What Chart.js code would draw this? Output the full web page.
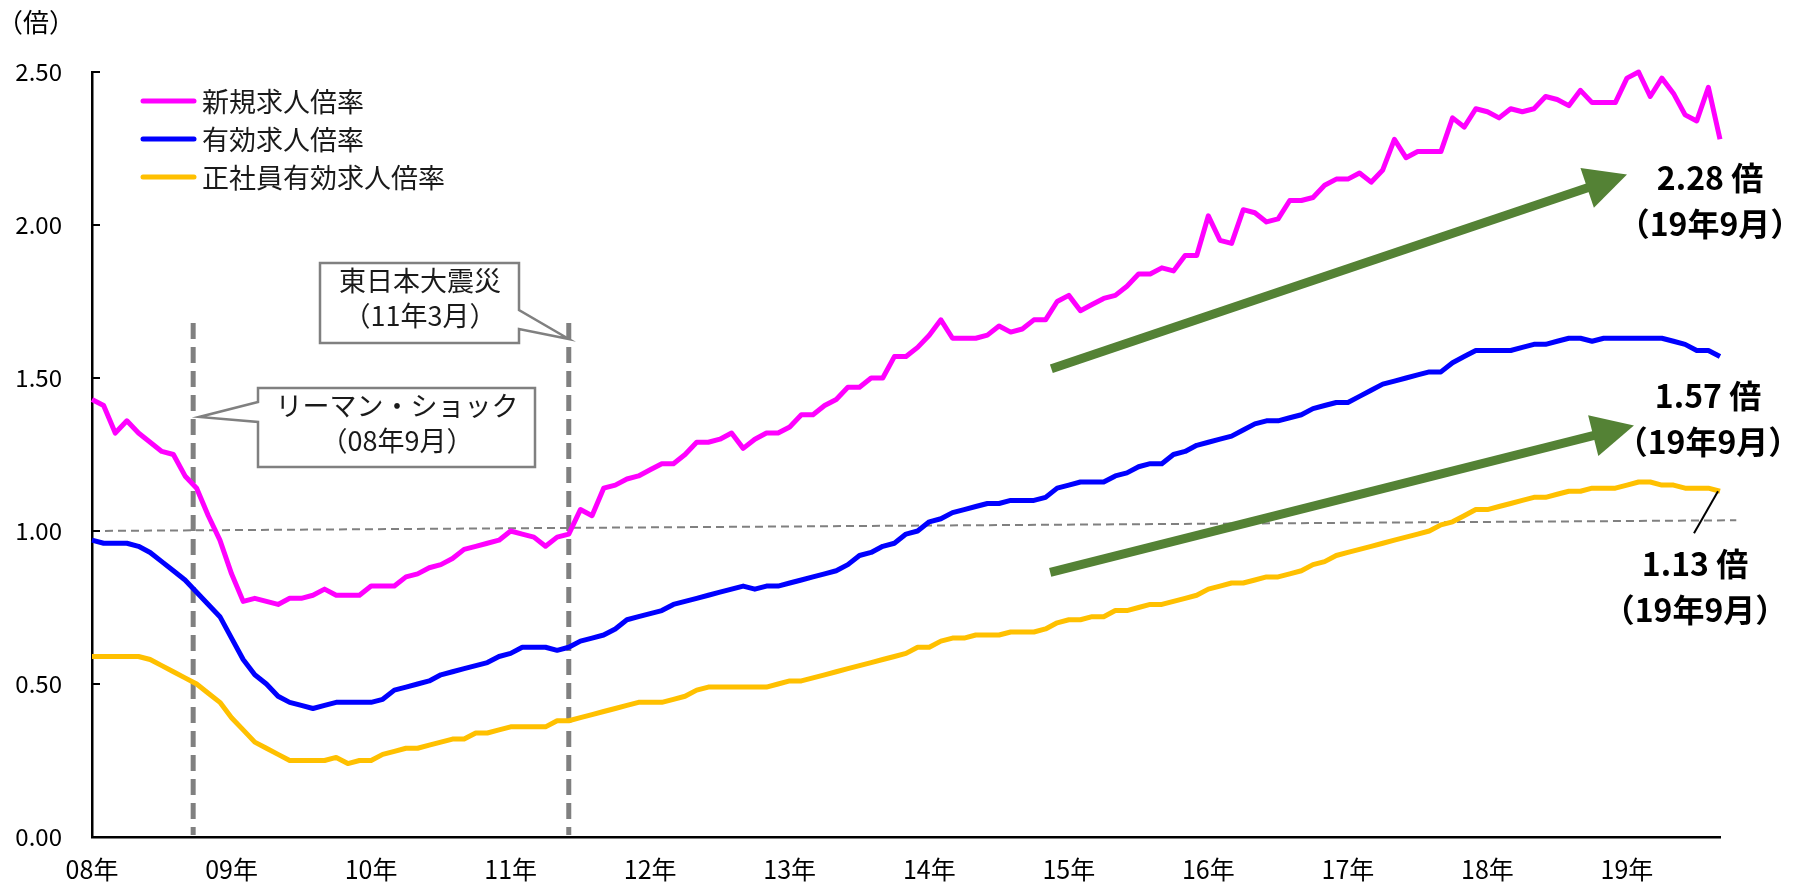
<!DOCTYPE html>
<html>
<head>
<meta charset="utf-8">
<script src="https://cdn.jsdelivr.net/npm/chart.js@4.4.0/dist/chart.umd.min.js"></script>
<style>
  html, body { margin: 0; padding: 0; background: #fff; }
</style>
</head>
<body>
<canvas id="chart" width="1805" height="886"></canvas>
<script>
// --- data (monthly, 08年1月 - 19年9月) ---
const yearLabels = ['08年', '09年', '10年', '11年', '12年', '13年', '14年', '15年', '16年', '17年', '18年', '19年'];

const newOpenings = [ // 新規求人倍率
  1.43, 1.41, 1.32, 1.36, 1.32, 1.29, 1.26, 1.25, 1.18, 1.14, 1.05, 0.97,
  0.86, 0.77, 0.78, 0.77, 0.76, 0.78, 0.78, 0.79, 0.81, 0.79, 0.79, 0.79,
  0.82, 0.82, 0.82, 0.85, 0.86, 0.88, 0.89, 0.91, 0.94, 0.95, 0.96, 0.97,
  1.00, 0.99, 0.98, 0.95, 0.98, 0.99, 1.07, 1.05, 1.14, 1.15, 1.17, 1.18,
  1.20, 1.22, 1.22, 1.25, 1.29, 1.29, 1.30, 1.32, 1.27, 1.30, 1.32, 1.32,
  1.34, 1.38, 1.38, 1.41, 1.43, 1.47, 1.47, 1.50, 1.50, 1.57, 1.57, 1.60,
  1.64, 1.69, 1.63, 1.63, 1.63, 1.64, 1.67, 1.65, 1.66, 1.69, 1.69, 1.75,
  1.77, 1.72, 1.74, 1.76, 1.77, 1.80, 1.84, 1.84, 1.86, 1.85, 1.90, 1.90,
  2.03, 1.95, 1.94, 2.05, 2.04, 2.01, 2.02, 2.08, 2.08, 2.09, 2.13, 2.15,
  2.15, 2.17, 2.14, 2.18, 2.28, 2.22, 2.24, 2.24, 2.24, 2.35, 2.32, 2.38,
  2.37, 2.35, 2.38, 2.37, 2.38, 2.42, 2.41, 2.39, 2.44, 2.40, 2.40, 2.40,
  2.48, 2.50, 2.42, 2.48, 2.43, 2.36, 2.34, 2.45, 2.28
];

const activeOpenings = [ // 有効求人倍率
  0.97, 0.96, 0.96, 0.96, 0.95, 0.93, 0.90, 0.87, 0.84, 0.80, 0.76, 0.72,
  0.65, 0.58, 0.53, 0.50, 0.46, 0.44, 0.43, 0.42, 0.43, 0.44, 0.44, 0.44,
  0.44, 0.45, 0.48, 0.49, 0.50, 0.51, 0.53, 0.54, 0.55, 0.56, 0.57, 0.59,
  0.60, 0.62, 0.62, 0.62, 0.61, 0.62, 0.64, 0.65, 0.66, 0.68, 0.71, 0.72,
  0.73, 0.74, 0.76, 0.77, 0.78, 0.79, 0.80, 0.81, 0.82, 0.81, 0.82, 0.82,
  0.83, 0.84, 0.85, 0.86, 0.87, 0.89, 0.92, 0.93, 0.95, 0.96, 0.99, 1.00,
  1.03, 1.04, 1.06, 1.07, 1.08, 1.09, 1.09, 1.10, 1.10, 1.10, 1.11, 1.14,
  1.15, 1.16, 1.16, 1.16, 1.18, 1.19, 1.21, 1.22, 1.22, 1.25, 1.26, 1.28,
  1.29, 1.30, 1.31, 1.33, 1.35, 1.36, 1.36, 1.37, 1.38, 1.40, 1.41, 1.42,
  1.42, 1.44, 1.46, 1.48, 1.49, 1.50, 1.51, 1.52, 1.52, 1.55, 1.57, 1.59,
  1.59, 1.59, 1.59, 1.60, 1.61, 1.61, 1.62, 1.63, 1.63, 1.62, 1.63, 1.63,
  1.63, 1.63, 1.63, 1.63, 1.62, 1.61, 1.59, 1.59, 1.57
];

const regularOpenings = [ // 正社員有効求人倍率
  0.59, 0.59, 0.59, 0.59, 0.59, 0.58, 0.56, 0.54, 0.52, 0.50, 0.47, 0.44,
  0.39, 0.35, 0.31, 0.29, 0.27, 0.25, 0.25, 0.25, 0.25, 0.26, 0.24, 0.25,
  0.25, 0.27, 0.28, 0.29, 0.29, 0.30, 0.31, 0.32, 0.32, 0.34, 0.34, 0.35,
  0.36, 0.36, 0.36, 0.36, 0.38, 0.38, 0.39, 0.40, 0.41, 0.42, 0.43, 0.44,
  0.44, 0.44, 0.45, 0.46, 0.48, 0.49, 0.49, 0.49, 0.49, 0.49, 0.49, 0.50,
  0.51, 0.51, 0.52, 0.53, 0.54, 0.55, 0.56, 0.57, 0.58, 0.59, 0.60, 0.62,
  0.62, 0.64, 0.65, 0.65, 0.66, 0.66, 0.66, 0.67, 0.67, 0.67, 0.68, 0.70,
  0.71, 0.71, 0.72, 0.72, 0.74, 0.74, 0.75, 0.76, 0.76, 0.77, 0.78, 0.79,
  0.81, 0.82, 0.83, 0.83, 0.84, 0.85, 0.85, 0.86, 0.87, 0.89, 0.90, 0.92,
  0.93, 0.94, 0.95, 0.96, 0.97, 0.98, 0.99, 1.00, 1.02, 1.03, 1.05, 1.07,
  1.07, 1.08, 1.09, 1.10, 1.11, 1.11, 1.12, 1.13, 1.13, 1.14, 1.14, 1.14,
  1.15, 1.16, 1.16, 1.15, 1.15, 1.14, 1.14, 1.14, 1.13
];

const seriesNames = ['新規求人倍率', '有効求人倍率', '正社員有効求人倍率'];
const seriesColors = ['#ff00ff', '#0000ff', '#ffc000'];
const yTicks = [0, 0.5, 1.0, 1.5, 2.0, 2.5];

// one label per month, e.g. "08年1月"
const monthLabels = [];
yearLabels.forEach(y => { for (let m = 1; m <= 12; m++) monthLabels.push(y + m + '月'); });
monthLabels.length = newOpenings.length;

const lastLabel = '（19年9月）';
const FONT = '"Noto Sans CJK JP", "Noto Sans", sans-serif';

// annotations, legend, arrows etc.
const overlay = {
  id: 'overlay',
  beforeDatasetsDraw(chart) {
    const { ctx, scales: { x, y } } = chart;
    ctx.save();
    // dashed 1.00 guide (rises a little toward the right, like the original)
    ctx.strokeStyle = '#808080';
    ctx.lineWidth = 2;
    ctx.setLineDash([8, 5]);
    ctx.beginPath();
    ctx.moveTo(x.getPixelForValue(0), y.getPixelForValue(1.0));
    ctx.lineTo(x.getPixelForValue(141.4), y.getPixelForValue(1.035));
    ctx.stroke();

    // event lines (リーマン・ショック, 東日本大震災)
    ctx.lineWidth = 5;
    ctx.setLineDash([16, 8]);
    [8.7, 41].forEach(i => {
      const px = x.getPixelForValue(i);
      ctx.beginPath();
      ctx.moveTo(px, y.getPixelForValue(1.68));
      ctx.lineTo(px, y.getPixelForValue(0) - 2);
      ctx.stroke();
    });
    ctx.restore();
  },
  afterDraw(chart) {
    const { ctx, scales: { x, y } } = chart;
    ctx.save();

    // unit
    ctx.fillStyle = '#000';
    ctx.font = '26px ' + FONT;
    ctx.textAlign = 'left';
    ctx.textBaseline = 'middle';
    ctx.fillText('（倍）', -3, 22);

    // inner tick marks on the y axis
    ctx.strokeStyle = '#000';
    ctx.lineWidth = 2;
    yTicks.forEach(v => {
      const py = y.getPixelForValue(v);
      ctx.beginPath();
      ctx.moveTo(x.left, py);
      ctx.lineTo(x.left + 8, py);
      ctx.stroke();
    });

    // legend
    chart.data.datasets.forEach((ds, i) => {
      const ly = 101 + i * 38;
      ctx.strokeStyle = ds.borderColor;
      ctx.lineWidth = 5;
      ctx.lineCap = 'round';
      ctx.beginPath();
      ctx.moveTo(143, ly);
      ctx.lineTo(194, ly);
      ctx.stroke();
      ctx.fillStyle = '#1a1a1a';
      ctx.font = '27px ' + FONT;
      ctx.fillText(ds.label, 202, ly + 1);
    });

    // callout boxes
    const callout = (pts, lines, cx, cy) => {
      ctx.beginPath();
      pts.forEach((p, k) => (k ? ctx.lineTo(p[0], p[1]) : ctx.moveTo(p[0], p[1])));
      ctx.closePath();
      ctx.fillStyle = '#fff';
      ctx.fill();
      ctx.strokeStyle = '#808080';
      ctx.lineWidth = 2.5;
      ctx.lineCap = 'butt';
      ctx.stroke();
      ctx.fillStyle = '#1a1a1a';
      ctx.font = '27px ' + FONT;
      ctx.textAlign = 'center';
      lines.forEach((t, k) => ctx.fillText(t, cx, cy + k * 35));
    };
    const q = x.getPixelForValue(41), q8 = x.getPixelForValue(8.7);
    callout([[320, 263], [519, 263], [519, 310], [q, 339], [519, 329], [519, 343], [320, 343]],
      ['東日本大震災', '（11年3月）'], 420, 281);
    callout([[258, 388], [535, 388], [535, 467], [258, 467], [258, 422], [q8 + 6, 417], [258, 402]],
      ['リーマン・ショック', '（08年9月）'], 397, 406);

    // green trend arrows
    const arrow = (x0, y0, x1, y1) => {
      const ax = x.getPixelForValue(x0), ay = y.getPixelForValue(y0);
      const bx = x.getPixelForValue(x1), by = y.getPixelForValue(y1);
      const ang = Math.atan2(by - ay, bx - ax);
      const hl = 42, hw = 21;
      const baseX = bx - hl * Math.cos(ang), baseY = by - hl * Math.sin(ang);
      ctx.strokeStyle = '#548235';
      ctx.fillStyle = '#548235';
      ctx.lineWidth = 9;
      ctx.lineCap = 'butt';
      ctx.beginPath();
      ctx.moveTo(ax, ay);
      ctx.lineTo(baseX + 2 * Math.cos(ang), baseY + 2 * Math.sin(ang));
      ctx.stroke();
      ctx.beginPath();
      ctx.moveTo(bx, by);
      ctx.lineTo(baseX + hw * Math.sin(ang), baseY - hw * Math.cos(ang));
      ctx.lineTo(baseX - hw * Math.sin(ang), baseY + hw * Math.cos(ang));
      ctx.closePath();
      ctx.fill();
    };
    arrow(82.5, 1.53, 132, 2.165);
    arrow(82.4, 0.865, 132.6, 1.345);

    // latest values
    const last = newOpenings.length - 1;
    ctx.fillStyle = '#000';
    ctx.textAlign = 'center';
    ctx.font = 'bold 32px ' + FONT;
    const label = (v, cx, cy) => {
      ctx.fillText(v.toFixed(2) + ' 倍', cx, cy);
      ctx.fillText(lastLabel, cx, cy + 46);
    };
    label(newOpenings[last], 1710, 178);
    label(activeOpenings[last], 1708, 396);
    label(regularOpenings[last], 1695, 564);

    // leader line for 1.13
    const lx = x.getPixelForValue(last) - 2, ly = y.getPixelForValue(regularOpenings[last]);
    ctx.strokeStyle = '#000';
    ctx.lineWidth = 2;
    ctx.beginPath();
    ctx.moveTo(lx, ly);
    ctx.lineTo(lx - 24, ly + 42);
    ctx.stroke();

    ctx.restore();
  }
};

const series = [newOpenings, activeOpenings, regularOpenings];

new Chart(document.getElementById('chart'), {
  type: 'line',
  data: {
    labels: monthLabels,
    datasets: series.map((d, i) => ({
      label: seriesNames[i],
      data: d,
      borderColor: seriesColors[i],
      backgroundColor: seriesColors[i],
      borderWidth: 5,
      pointRadius: 0,
      tension: 0,
      borderJoinStyle: 'round',
      clip: false
    }))
  },
  options: {
    responsive: false,
    animation: false,
    layout: { padding: { top: 72, right: 85, left: 0, bottom: 0 } },
    plugins: {
      legend: { display: false },
      tooltip: { enabled: false }
    },
    scales: {
      x: {
        grid: { display: false, drawTicks: false },
        border: { display: true, color: '#000', width: 2.5 },
        afterFit(scale) { scale.height = 49; },
        ticks: {
          autoSkip: false,
          maxRotation: 0,
          padding: 17,
          color: '#000',
          font: { family: FONT, size: 25 },
          callback: (v, i) => (i % 12 === 0 ? yearLabels[i / 12] : '')
        }
      },
      y: {
        min: 0,
        max: 2.5,
        grid: { display: false, drawTicks: false },
        border: { display: true, color: '#000', width: 2.5 },
        afterFit(scale) { scale.width = 92; },
        afterBuildTicks(scale) { scale.ticks = yTicks.map(v => ({ value: v })); },
        ticks: {
          padding: 30,
          color: '#000',
          font: { family: FONT, size: 24 },
          callback: v => v.toFixed(2)
        }
      }
    }
  },
  plugins: [overlay]
});
</script>
</body>
</html>
